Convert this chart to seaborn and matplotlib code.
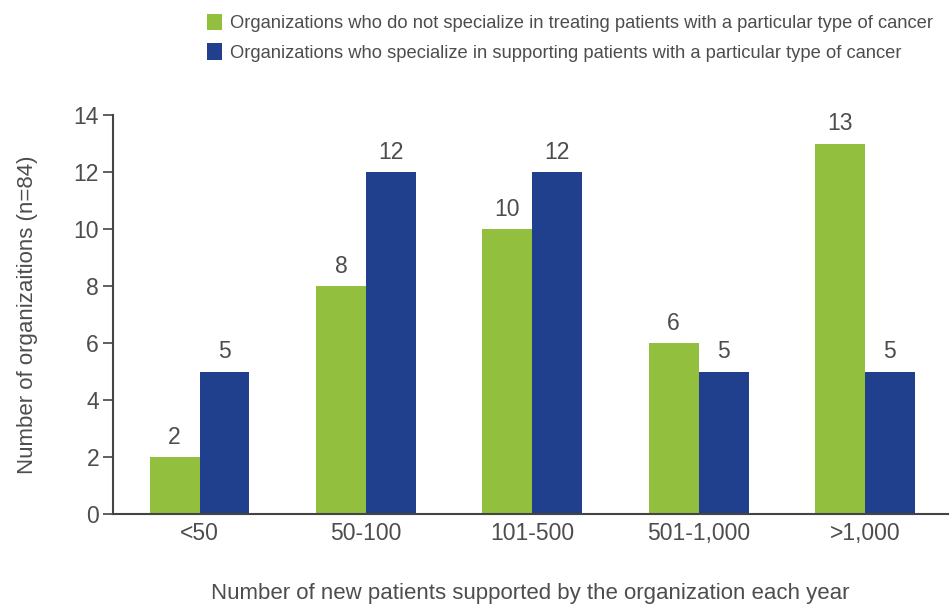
import matplotlib
matplotlib.use("Agg")
import matplotlib.pyplot as plt
import seaborn as sns
import pandas as pd

categories = ["<50", "50-100", "101-500", "501-1,000", ">1,000"]
not_specialized = [2, 8, 10, 6, 13]
specialized = [5, 12, 12, 5, 5]
series_names = [
    "Organizations who do not specialize in treating patients with a particular type of cancer",
    "Organizations who specialize in supporting patients with a particular type of cancer",
]

df = pd.DataFrame({
    "category": categories * 2,
    "count": not_specialized + specialized,
    "group": [series_names[0]] * len(categories) + [series_names[1]] * len(categories),
})

sns.set_theme(style="white")
plt.rcParams["font.family"] = ["Liberation Sans", "DejaVu Sans"]
text_col = "#4d4d4d"
spine_col = "#444444"

fig = plt.figure(figsize=(9.52, 6.09), dpi=100)
ax = fig.add_axes([0.1187, 0.156, 0.8773, 0.655])

sns.barplot(data=df, x="category", y="count", hue="group", order=categories,
            hue_order=series_names, palette=["#92c03e", "#203f8c"],
            width=0.6, saturation=1, linewidth=0, ax=ax, legend=True)

for cont in ax.containers:
    ax.bar_label(cont, padding=6, fontsize=16.5, color=text_col)

ax.set_ylim(0, 14)
ax.set_xlim(-0.52, 4.5)
ax.set_yticks(range(0, 15, 2))
ax.tick_params(axis="y", length=7, width=1.2, color=spine_col, labelsize=16.5,
               labelcolor=text_col, pad=3, left=True)
ax.tick_params(axis="x", length=0, labelsize=16.5, labelcolor=text_col, pad=6)

for s in ["top", "right"]:
    ax.spines[s].set_visible(False)
for s in ["left", "bottom"]:
    ax.spines[s].set_color(spine_col)
    ax.spines[s].set_linewidth(1.5)

ax.set_xlabel("Number of new patients supported by the organization each year",
              fontsize=16, color=text_col, labelpad=27)
ax.set_ylabel("Number of organizaitions (n=84)", fontsize=16, color=text_col, labelpad=26)

handles, labels = ax.get_legend_handles_labels()
ax.get_legend().remove()
fig.legend(handles, labels, loc="upper left", bbox_to_anchor=(0.203, 1.0),
           frameon=False, fontsize=13.2, handlelength=0.8, handleheight=1.0,
           handletextpad=0.45, labelspacing=0.6, labelcolor=text_col, borderpad=0.25)

fig.savefig("out.png", dpi=100)
